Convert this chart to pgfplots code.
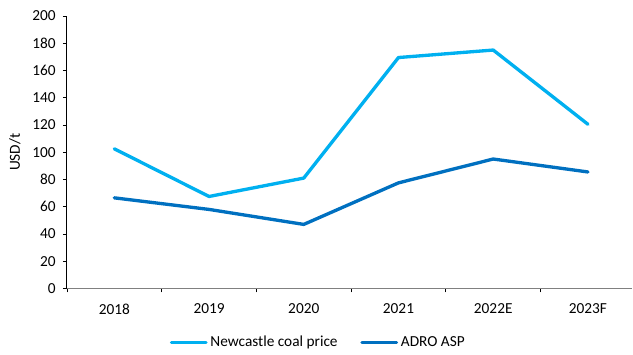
\documentclass[border=0pt]{standalone}
\usepackage{fontspec}
\setmainfont{Carlito}
\usepackage{pgfplots}
\pgfplotsset{compat=1.18}
\definecolor{coalblue}{HTML}{00B0F0}
\definecolor{adroblue}{HTML}{0070C0}
\definecolor{axisgray}{HTML}{808080}
\newcommand{\chartfont}{\fontsize{11.5}{13.5}\selectfont}
\begin{document}
\begin{tikzpicture}
\begin{axis}[
  at={(0,0)}, anchor=south west,
  scale only axis,
  width=424.5pt, height=204.5pt,
  xmin=-0.5, xmax=5.47,
  ymin=0, ymax=200,
  ytick={0,20,...,200},
  xtick={0,1,2,3,4,5},
  xticklabels={2018,2019,2020,2021,2022E,2023F},
  minor xtick={-0.5,0.5,1.5,2.5,3.5,4.5,5.5},
  axis lines*=left,
  axis line style={-, line width=0.8pt},
  x axis line style={axisgray},
  y axis line style={black},
  tick align=outside,
  major tick length=3pt,
  minor tick length=3pt,
  major x tick style={draw=none},
  minor x tick style={black, line width=0.6pt},
  ytick style={black, line width=0.6pt},
  tick label style={font=\chartfont, text=black},
  /pgf/number format/assume math mode=true,
  yticklabel style={xshift=-2pt},
  xticklabel style={yshift=-5pt},
  ylabel={USD/t},
  ylabel style={font=\chartfont, at={(axis description cs:-0.092,0.5)}, anchor=center},
  clip=false,
  legend columns=2,
  legend style={at={(axis description cs:0.445,-0.199)}, anchor=center,
    draw=none, fill=none, font=\chartfont,
    /tikz/every odd column/.append style={inner xsep=1pt},
    /tikz/every even column/.append style={column sep=15pt}},
  legend image code/.code={\draw[#1, line width=2.5pt] (0pt,0pt) -- (26pt,0pt);},
  every axis plot/.append style={line width=2.5pt, line cap=round, line join=round},
]
\addplot[coalblue, mark=none] coordinates {
  (0,102.5) (1,67.5) (2,81) (3,169.5) (4,175) (5,120.5)
};
\addlegendentry{Newcastle coal price}
\addplot[adroblue, mark=none] coordinates {
  (0,66.5) (1,58) (2,47) (3,77.5) (4,95) (5,85.5)
};
\addlegendentry{ADRO ASP}
\end{axis}
\path[use as bounding box] (-50.25pt,-46.7pt) rectangle (424.5pt,216.5pt);
\end{tikzpicture}
\end{document}
